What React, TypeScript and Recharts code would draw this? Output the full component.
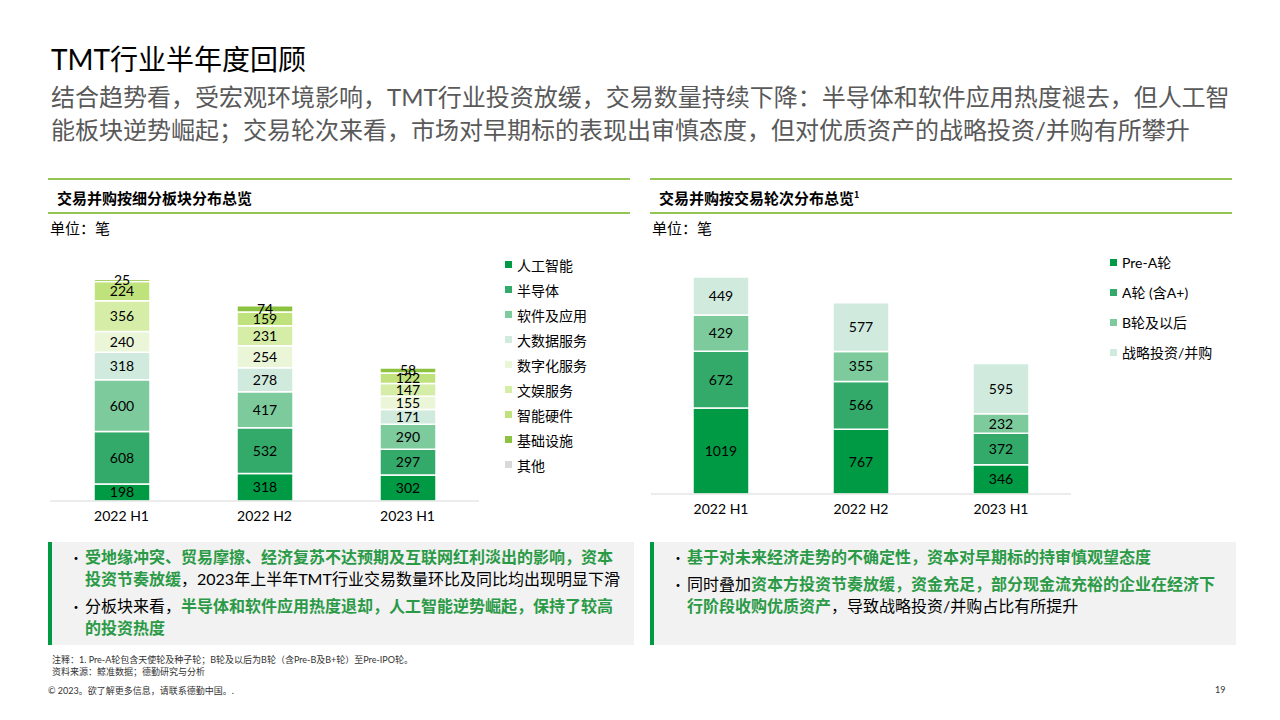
import { BarChart, Bar, XAxis, YAxis, LabelList } from "recharts";

// 期间
const periods = ["2022 H1", "2022 H2", "2023 H1"];

// 左图：细分板块（笔）
const sectorNames = ["人工智能", "半导体", "软件及应用", "大数据服务", "数字化服务", "文娱服务", "智能硬件", "基础设施", "其他"];
const sectorColors = ["#009a44", "#33aa6a", "#7dcb9d", "#d0ebdd", "#ebf6d9", "#d6eda8", "#c0e27c", "#8cc23f", "#d9d9d9"];
const ai = [198, 318, 302];
const semi = [608, 532, 297];
const software = [600, 417, 290];
const bigData = [318, 278, 171];
const digital = [240, 254, 155];
const entertainment = [356, 231, 147];
const hardware = [224, 159, 122];
const infra = [25, 74, 58];
const others = [0, 0, 0];
const sectorSeries = [ai, semi, software, bigData, digital, entertainment, hardware, infra, others];

// 右图：交易轮次（笔）
const roundNames = ["Pre-A轮", "A轮 (含A+)", "B轮及以后", "战略投资/并购"];
const roundColors = ["#009a44", "#33aa6a", "#7dcb9d", "#d0ebdd"];
const preA = [1019, 767, 346];
const roundA = [672, 566, 372];
const roundB = [429, 355, 232];
const strategic = [449, 577, 595];
const roundSeries = [preA, roundA, roundB, strategic];

const FONT = "Lato, 'Noto Sans CJK SC', sans-serif";
const CJK = "'Noto Sans CJK SC', sans-serif";
const GREEN_TEXT = "#2b9a47";
const LINE_GREEN = "#92c651";

const sectorData = periods.map((p, i) => {
  const row: Record<string, any> = { period: p };
  sectorNames.forEach((n, k) => (row[n] = sectorSeries[k][i]));
  return row;
});
const roundData = periods.map((p, i) => {
  const row: Record<string, any> = { period: p };
  roundNames.forEach((n, k) => (row[n] = roundSeries[k][i]));
  return row;
});

const hideZero = (v: any) => (Number(v) === 0 ? "" : v);

function StackChart({ data, names, colors, width, height, margin }: any) {
  return (
    <BarChart width={width} height={height} data={data} margin={margin} barSize={56}>
      <XAxis
        dataKey="period"
        axisLine={{ stroke: "#d9d9d9" }}
        tickLine={false}
        tickMargin={4}
        tick={{ fill: "#000", fontSize: 14, fontFamily: FONT }}
        height={30}
      />
      <YAxis hide domain={[0, 2700]} />
      {names.map((n: string, k: number) => (
        <Bar key={n} dataKey={n} stackId="a" fill={colors[k]} stroke="#fff" strokeWidth={1.5} isAnimationActive={false}>
          <LabelList dataKey={n} position="center" formatter={hideZero} style={{ fill: "#000", fontSize: 14, fontFamily: FONT }} />
        </Bar>
      ))}
    </BarChart>
  );
}

function LegendList({ names, colors, left, top, gap }: any) {
  return (
    <div style={{ position: "absolute", left, top }}>
      {names.map((n: string, k: number) => (
        <div key={n} style={{ display: "flex", alignItems: "center", height: gap, fontSize: 14, fontFamily: FONT, color: "#000" }}>
          <span style={{ width: 7, height: 7, background: colors[k], marginRight: 5, display: "inline-block" }} />
          {n}
        </div>
      ))}
    </div>
  );
}

function SectionHeader({ left, text, sup }: any) {
  return (
    <>
      <div style={{ position: "absolute", left, top: 178, width: 582, height: 2, background: LINE_GREEN }} />
      <div style={{ position: "absolute", left: left + 9, top: 187, fontSize: 15, fontWeight: 700, fontFamily: CJK, color: "#000" }}>
        {text}
        {sup && <sup style={{ fontSize: 9 }}>{sup}</sup>}
      </div>
      <div style={{ position: "absolute", left, top: 212, width: 582, height: 2, background: LINE_GREEN }} />
      <div style={{ position: "absolute", left: left + 2, top: 217, fontSize: 15, fontFamily: CJK, color: "#000" }}>单位：笔</div>
    </>
  );
}

const G = ({ children }: any) => <span style={{ color: GREEN_TEXT, fontWeight: 700 }}>{children}</span>;

function Bullet({ top, lines }: any) {
  return (
    <div style={{ position: "absolute", left: 17, top }}>
      <span style={{ position: "absolute", left: 0, top: 0, fontSize: 14, lineHeight: "22px" }}>•</span>
      {lines.map((l: any, i: number) => (
        <div key={i} style={{ marginLeft: 16, whiteSpace: "nowrap", fontSize: 16, lineHeight: "22px", fontFamily: FONT, color: "#000" }}>
          {l}
        </div>
      ))}
    </div>
  );
}

export default function App() {
  return (
    <div style={{ position: "absolute", left: 0, top: 0, width: 1280, height: 720, background: "#fff", fontFamily: CJK, overflow: "hidden" }}>
      <div style={{ position: "absolute", left: 51, top: 38, fontSize: 28, fontFamily: FONT, color: "#000" }}>TMT行业半年度回顾</div>
      <div style={{ position: "absolute", left: 51, top: 80, fontSize: 24, lineHeight: "33px", fontFamily: FONT, color: "#595959", whiteSpace: "nowrap" }}>
        结合趋势看，受宏观环境影响，TMT行业投资放缓，交易数量持续下降：半导体和软件应用热度褪去，但人工智
        <br />
        能板块逆势崛起；交易轮次来看，市场对早期标的表现出审慎态度，但对优质资产的战略投资/并购有所攀升
      </div>

      <SectionHeader left={48} text="交易并购按细分板块分布总览" />
      <SectionHeader left={650} text="交易并购按交易轮次分布总览" sup="1" />

      <div style={{ position: "absolute", left: 40, top: 231 }}>
        <StackChart data={sectorData} names={sectorNames} colors={sectorColors} width={440} height={300} margin={{ top: 37, right: 1, bottom: 0, left: 10 }} />
      </div>
      <LegendList names={sectorNames} colors={sectorColors} left={505} top={252} gap={25} />

      <div style={{ position: "absolute", left: 640, top: 230 }}>
        <StackChart data={roundData} names={roundNames} colors={roundColors} width={432} height={294} margin={{ top: 36, right: 1, bottom: 0, left: 11 }} />
      </div>
      <LegendList names={roundNames} colors={roundColors} left={1110} top={247} gap={30} />

      <div style={{ position: "absolute", left: 48, top: 542, width: 582, height: 103, background: "#f2f2f2", borderLeft: "4px solid #009a44" }}>
        <Bullet
          top={4}
          lines={[
            <G>受地缘冲突、贸易摩擦、经济复苏不达预期及互联网红利淡出的影响，资本</G>,
            <>
              <G>投资节奏放缓</G>，2023年上半年TMT行业交易数量环比及同比均出现明显下滑
            </>,
          ]}
        />
        <Bullet
          top={53}
          lines={[
            <>
              分板块来看，<G>半导体和软件应用热度退却，人工智能逆势崛起，保持了较高</G>
            </>,
            <G>的投资热度</G>,
          ]}
        />
      </div>

      <div style={{ position: "absolute", left: 650, top: 542, width: 582, height: 103, background: "#f2f2f2", borderLeft: "4px solid #009a44" }}>
        <Bullet top={4} lines={[<G>基于对未来经济走势的不确定性，资本对早期标的持审慎观望态度</G>]} />
        <Bullet
          top={31}
          lines={[
            <>
              同时叠加<G>资本方投资节奏放缓，资金充足，部分现金流充裕的企业在经济下</G>
            </>,
            <>
              <G>行阶段收购优质资产</G>，导致战略投资/并购占比有所提升
            </>,
          ]}
        />
      </div>

      <div style={{ position: "absolute", left: 52, top: 654, fontSize: 9, lineHeight: "12px", fontFamily: FONT, color: "#333" }}>
        注释：1. Pre-A轮包含天使轮及种子轮；B轮及以后为B轮（含Pre-B及B+轮）至Pre-IPO轮。
        <br />
        资料来源：鲸准数据；德勤研究与分析
      </div>
      <div style={{ position: "absolute", left: 48, top: 684, fontSize: 9, fontFamily: FONT, color: "#333" }}>© 2023。欲了解更多信息，请联系德勤中国。.</div>
      <div style={{ position: "absolute", left: 1215, top: 684, fontSize: 9, fontFamily: FONT, color: "#333" }}>19</div>
    </div>
  );
}
